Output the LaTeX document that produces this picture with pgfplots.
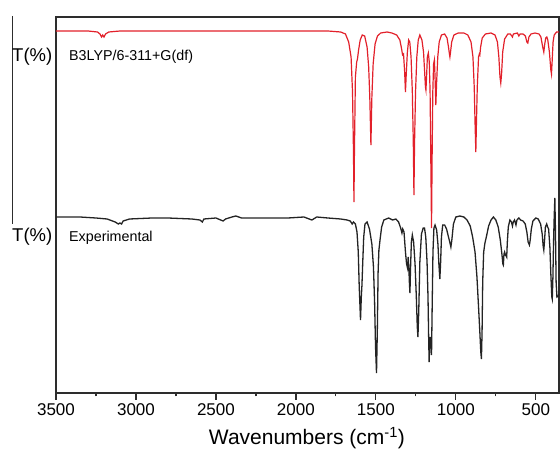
\documentclass[border=0pt]{standalone}
\usepackage{fontspec}
\setmainfont{Liberation Sans}
\usepackage{pgfplots}
\pgfplotsset{compat=1.18}
\definecolor{calcred}{RGB}{226,32,42}
\definecolor{expgray}{RGB}{35,35,35}
\definecolor{axgray}{RGB}{45,45,45}

\begin{document}
\begin{tikzpicture}
\begin{axis}[
  scale only axis, width=503pt, height=376pt,
  x dir=reverse, xmin=355, xmax=3500, ymin=-1, ymax=375,
  xtick={500,1000,...,3500}, minor x tick num=1,
  ytick=\empty,
  tick align=outside, tick pos=left,
  major tick length=7pt, minor tick length=3.5pt,
  axis line style={axgray, line width=1.3pt},
  every tick/.style={axgray, line width=1.2pt},
  ticklabel style={font=\fontsize{17}{20}\selectfont},
  /pgf/number format/assume math mode=true,
  /pgf/number format/1000 sep={},
  xlabel={Wavenumbers (cm\textsuperscript{-1})},
  xlabel style={font=\fontsize{21}{24}\selectfont, at={(axis description cs:0.499,-0.12)}, anchor=center},
  clip=false,
]
% calculated spectrum (B3LYP)
\addplot[calcred, line width=1.2pt] coordinates {
(3500,361) (3300,361) (3240,360) (3225,358) (3215,355) (3208,357) (3200,355) (3190,358) (3170,360)
(3100,361) (2500,361) (2000,361) (1800,361) (1720,360) (1690,358) (1670,350) (1655,335) (1646,300)
(1640,240) (1637,190) (1634,240) (1628,315) (1620,330) (1615,333) (1608,342) (1598,352) (1585,357)
(1570,356) (1555,345) (1545,325) (1538,295) (1531,247) (1525,295) (1517,328) (1505,348) (1490,356)
(1470,359) (1430,360) (1400,359) (1370,357) (1350,352) (1340,344) (1333,337) (1327,338) (1320,320)
(1315,300) (1310,318) (1303,340) (1295,352) (1288,350) (1280,335) (1272,300) (1266,250) (1262,197)
(1258,250) (1252,300) (1244,335) (1235,352) (1225,357) (1212,352) (1202,340) (1195,320) (1190,305)
(1187,302) (1183,315) (1178,335) (1172,339) (1166,330) (1161,300) (1157,240) (1152,164) (1148,240)
(1144,300) (1139,328) (1134,332) (1130,315) (1125,287) (1120,310) (1113,335) (1104,350) (1090,357)
(1070,358) (1055,354) (1046,345) (1040,338) (1037,335) (1033,340) (1026,350) (1012,357) (985,359)
(950,359) (925,357) (905,350) (893,335) (885,305) (880,270) (875,240) (871,270) (866,305) (858,335)
(853,338) (850,337) (845,345) (835,354) (815,358) (780,359) (755,357) (740,350) (731,335) (724,315)
(719,309) (714,318) (707,340) (695,353) (675,358) (660,358) (650,356) (646,355) (640,358) (615,359)
(606,356) (598,358) (580,358) (565,356) (556,350) (550,349) (543,355) (530,358) (505,359) (480,358)
(468,355) (458,346) (450,340) (444,348) (438,354) (431,355) (425,352) (415,340) (406,322) (402,318)
(398,330) (392,350) (385,357) (370,360) (355,360)
};
% experimental spectrum
\addplot[expgray, line width=1.3pt] coordinates {
(3500,175) (3350,175) (3250,174) (3180,173) (3130,170) (3110,168) (3100,169) (3090,168) (3080,171)
(3060,172) (3040,173) (2900,174) (2800,174) (2650,173) (2600,172) (2585,170) (2575,173) (2500,174)
(2470,172) (2455,171) (2440,173) (2400,175) (2375,176) (2340,174) (2200,174) (2050,174) (1950,175)
(1900,172) (1890,173) (1870,175) (1800,174) (1720,173) (1680,172) (1660,171) (1648,168) (1640,170)
(1628,168) (1618,160) (1610,140) (1604,105) (1596,72) (1591,95) (1587,107) (1582,130) (1576,155)
(1568,168) (1555,170) (1540,163) (1525,148) (1515,125) (1508,90) (1502,45) (1496,19) (1491,60)
(1486,120) (1481,142) (1474,152) (1464,165) (1450,172) (1420,174) (1395,172) (1375,173) (1358,170)
(1345,164) (1337,159) (1332,163) (1324,160) (1315,140) (1308,128) (1302,124) (1298,135) (1294,125)
(1290,108) (1287,99) (1283,125) (1278,150) (1272,157) (1264,150) (1255,128) (1247,95) (1241,65)
(1237,55) (1232,80) (1225,130) (1215,158) (1204,164) (1196,164) (1188,155) (1180,130) (1174,95)
(1170,55) (1167,30) (1163,50) (1159,55) (1155,45) (1152,37) (1148,85) (1143,140) (1137,164)
(1130,167) (1120,162) (1112,148) (1106,128) (1100,113) (1095,130) (1090,155) (1082,167) (1070,167)
(1058,163) (1046,155) (1038,150) (1031,145) (1025,152) (1015,168) (1000,175) (975,176) (950,175)
(930,172) (910,166) (895,155) (880,140) (868,115) (858,85) (850,60) (844,40) (840,33) (836,60)
(832,110) (826,140) (818,149) (808,156) (795,166) (780,172) (765,175) (750,172) (735,165) (722,152)
(712,138) (706,128) (703,127) (699,138) (695,140) (690,137) (685,136) (682,135) (678,150) (672,165)
(662,172) (652,170) (646,166) (641,170) (633,172) (624,167) (618,172) (606,174) (595,172) (580,171)
(566,168) (556,160) (548,150) (540,147) (535,152) (528,163) (518,171) (500,174) (485,173) (470,168)
(460,158) (454,146) (450,142) (446,150) (440,165) (432,168) (426,165) (420,163) (412,145) (406,118)
(400,95) (397,93) (393,115) (389,150) (385,175) (381,194) (377,160) (373,110) (368,95) (360,96) (356,98)
};
\end{axis}
\pgfresetboundingbox
\path (-56pt,-59pt) rectangle (504pt,393pt);
\draw[axgray, line width=0.8pt] (-44pt,377pt) -- (-44pt,169pt);
\node[anchor=west, inner sep=0pt, font=\fontsize{18.5}{22}\selectfont] at (-44pt,336pt) {T(\%)};
\node[anchor=west, inner sep=0pt, font=\fontsize{18.5}{22}\selectfont] at (-44pt,156pt) {T(\%)};
\node[anchor=west, inner sep=0pt, font=\fontsize{14.3}{16}\selectfont] at (13pt,336pt) {B3LYP/6-311+G(df)};
\node[anchor=west, inner sep=0pt, font=\fontsize{14.3}{16}\selectfont] at (13pt,155pt) {Experimental};
\end{tikzpicture}
\end{document}
